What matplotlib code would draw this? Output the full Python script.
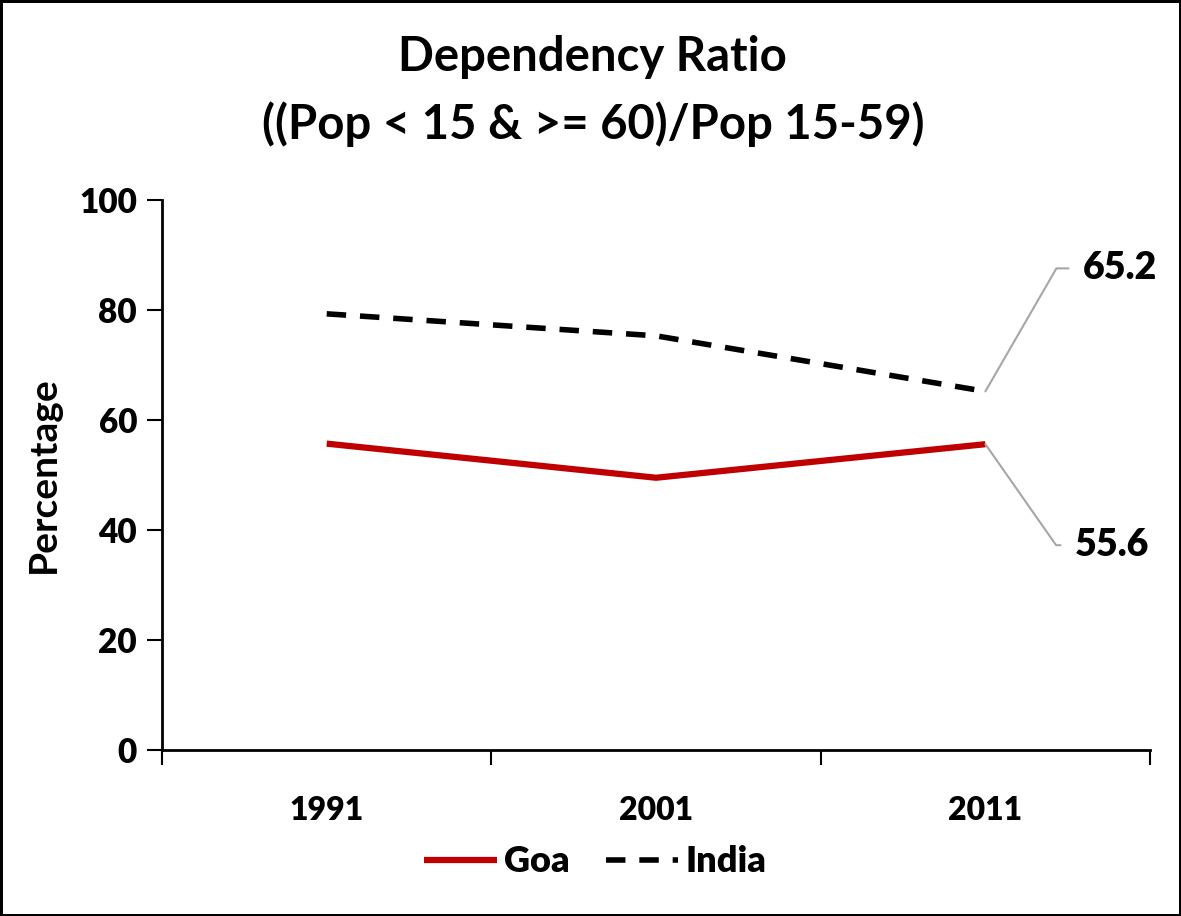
import matplotlib.pyplot as plt
import numpy as np

years = ["1991", "2001", "2011"]
goa = [55.7, 49.5, 55.6]
india = [79.3, 75.3, 65.2]

plt.rcParams['font.family'] = ['Lato', 'DejaVu Sans']
plt.rcParams['font.weight'] = 'heavy'
plt.rcParams['axes.titleweight'] = 'bold'
plt.rcParams['axes.labelweight'] = 'bold'

fig = plt.figure(figsize=(11.81, 9.16), dpi=100, linewidth=2.5, edgecolor='black')
ax = fig.add_axes([0.1372, 0.1812, 0.8366, 0.6005])

x = np.arange(len(years))
ax.plot(x, goa, color='#c00000', lw=4.5, label='Goa', solid_capstyle='butt')
ax.plot(x, india, color='black', lw=4, ls=(0, (3.5, 2.5)), label='India')

ax.set_xlim(-0.5, len(years) - 0.5)
ax.set_ylim(0, 100)
ax.set_yticks(range(0, 101, 20))
ax.set_xticks(x)
ax.set_xticklabels(years)
ax.set_xticks(np.arange(-0.5, len(years), 1.0), minor=True)
ax.tick_params(axis='x', which='major', length=0, pad=33, labelsize=23)
ax.tick_params(axis='x', which='minor', length=11, width=1.5, direction='out')
ax.tick_params(axis='y', length=11, width=1.5, pad=7, labelsize=24)
for s in ['top', 'right']:
    ax.spines[s].set_visible(False)
for s in ['left', 'bottom']:
    ax.spines[s].set_linewidth(2)

ax.set_ylabel('Percentage', fontsize=28, labelpad=13)
fig.suptitle('Dependency Ratio\n((Pop < 15 & >= 60)/Pop 15-59)', fontsize=34,
             fontweight='bold', linespacing=1.6, x=0.502, y=0.962, va='top')

# data labels for the last year, with leader lines
ax.annotate(f"{india[-1]:.1f}", xy=(x[-1], india[-1]), xytext=(97, 123),
            textcoords='offset pixels', ha='left', va='center', fontsize=27,
            arrowprops=dict(arrowstyle='-', color='#a6a6a6', lw=1.5,
                            shrinkA=8, shrinkB=0,
                            connectionstyle='angle,angleA=0,angleB=60,rad=0'))
ax.annotate(f"{goa[-1]:.1f}", xy=(x[-1], goa[-1]), xytext=(89, -101),
            textcoords='offset pixels', ha='left', va='center', fontsize=27,
            arrowprops=dict(arrowstyle='-', color='#a6a6a6', lw=1.5,
                            shrinkA=8, shrinkB=0,
                            connectionstyle='angle,angleA=0,angleB=-55,rad=0'))

fig.legend(loc='center', bbox_to_anchor=(0.504, 0.059), ncol=2, frameon=False,
           fontsize=26, handlelength=2.0, handletextpad=0.2, columnspacing=1.0)

fig.savefig('out.png', dpi=100)
